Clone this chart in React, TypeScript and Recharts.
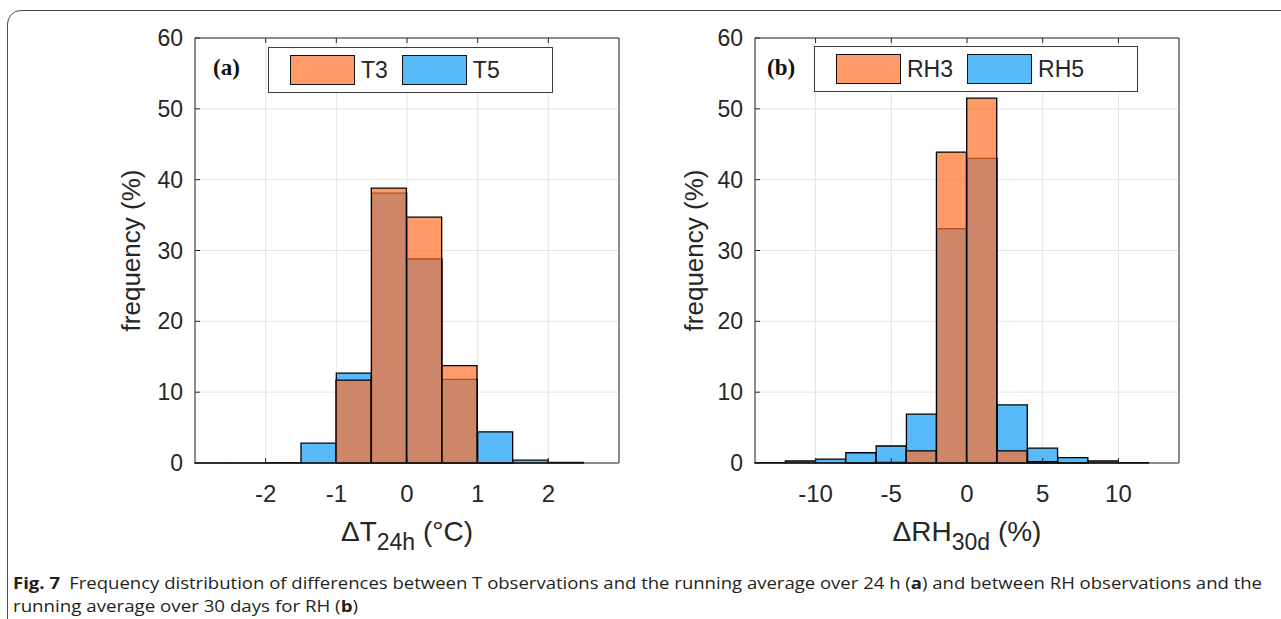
import { ComposedChart, Bar, XAxis, YAxis, CartesianGrid, Legend } from 'recharts'

// bin left edges and frequencies (%)
const T_BINS = [-3, -2.5, -2, -1.5, -1, -0.5, 0, 0.5, 1, 1.5, 2, 2.5]
const T3 = [0, 0, 0, 0, 11.7, 38.8, 34.7, 13.75, 0.05, 0, 0, 0]
const T5 = [0.03, 0.03, 0.05, 2.8, 12.7, 38.1, 28.8, 11.8, 4.4, 0.4, 0.08, 0]
const T_TICKS = [-2, -1, 0, 1, 2]

const RH_BINS = [-14, -12, -10, -8, -6, -4, -2, 0, 2, 4, 6, 8, 10, 12]
const RH3 = [0, 0, 0, 0.05, 0.1, 1.7, 43.9, 51.5, 1.7, 0.2, 0.05, 0, 0, 0]
const RH5 = [0.05, 0.28, 0.56, 1.45, 2.4, 6.9, 33.1, 43.0, 8.2, 2.1, 0.75, 0.28, 0.05, 0]
const RH_TICKS = [-10, -5, 0, 5, 10]

const FREQ_TICKS = [0, 10, 20, 30, 40, 50, 60]

const ORANGE = '#FF7029'
const ORANGE_SWATCH = '#FF9B69'
const BLUE = '#59BAF9'
const BOX = '#262626'
const GRID = '#E4E4E4'
const INK = '#262626'
const SANS = '"Liberation Sans", Arial, Helvetica, sans-serif'

// matlab style ticks point into the plot box
const LeftTick = (p: any) => (
  <g>
    <line x1={p.x + 12} x2={p.x + 17} y1={p.y} y2={p.y} stroke={BOX} />
    <text x={p.x} y={p.y} dy="0.35em" textAnchor="end" fontSize={23} fill={INK} fontFamily={SANS}>
      {p.payload.value}
    </text>
  </g>
)
const RightTick = (p: any) => <line x1={p.x - 5} x2={p.x} y1={p.y} y2={p.y} stroke={BOX} />
const TopTick = (p: any) => <line x1={p.x} x2={p.x} y1={p.y} y2={p.y + 5} stroke={BOX} />
const BottomTick = (p: any) => (
  <g>
    <line x1={p.x} x2={p.x} y1={p.y - 22} y2={p.y - 27} stroke={BOX} />
    <text x={p.x} y={p.y} dy="0.71em" textAnchor="middle" fontSize={24} fill={INK} fontFamily={SANS}>
      {p.payload.value}
    </text>
  </g>
)

function XTitle({ viewBox, main, sub, tail }: any) {
  const cx = viewBox.x + viewBox.width / 2
  return (
    <text x={cx} y={viewBox.y + 78} textAnchor="middle" fontSize={28} fill={INK} fontFamily={SANS}>
      {main}
      <tspan fontSize={23} dy={9}>{sub}</tspan>
      <tspan dy={-9}> {tail}</tspan>
    </text>
  )
}

function LegendBox({ names }: { names: string[] }) {
  const colors = [ORANGE_SWATCH, BLUE]
  return (
    <div
      style={{
        width: '100%', height: '100%', boxSizing: 'border-box', border: '1.5px solid #3c3c3c', background: '#fff',
        display: 'flex', alignItems: 'center', paddingLeft: 21, gap: 14, fontFamily: SANS, fontSize: 23, color: INK,
      }}
    >
      {names.map((n, i) => (
        <div key={n} style={{ display: 'flex', alignItems: 'center', gap: 6 }}>
          <div style={{ width: 65, height: 30, boxSizing: 'border-box', background: colors[i], border: '1.5px solid #111' }} />
          <span>{n}</span>
        </div>
      ))}
    </div>
  )
}

interface PanelProps {
  bins: number[]
  first: number[]
  second: number[]
  names: [string, string]
  domain: [number, number]
  ticks: number[]
  xMain: string
  xSub: string
  xTail: string
  marginLeft: number
  marginRight: number
  yLabelOffset: number
  legendBox: { left: number; top: number; width: number; height: number }
}

function Panel({ bins, first, second, names, domain, ticks, xMain, xSub, xTail, marginLeft, marginRight, yLabelOffset, legendBox }: PanelProps) {
  const data = bins.map((bin, i) => ({ bin, [names[0]]: first[i], [names[1]]: second[i] }))
  return (
    <ComposedChart
      width={640}
      height={560}
      data={data}
      margin={{ top: 37, right: marginRight, bottom: 37, left: marginLeft }}
      barCategoryGap={0}
      barGap="-100%"
    >
      <CartesianGrid xAxisId="num" yAxisId="freq" stroke={GRID} />
      {/* bars sit on a hidden band axis, one band per bin */}
      <XAxis xAxisId="bins" dataKey="bin" type="category" hide height={0} />
      <XAxis
        xAxisId="num" dataKey="bin" type="number" domain={domain} ticks={ticks} allowDataOverflow interval={0}
        tickSize={0} tickMargin={22} tick={BottomTick} stroke={BOX} height={60}
        label={<XTitle main={xMain} sub={xSub} tail={xTail} />}
      />
      <XAxis
        xAxisId="top" dataKey="bin" orientation="top" type="number" domain={domain} ticks={ticks} allowDataOverflow interval={0}
        tickSize={0} tickMargin={0} tick={TopTick} stroke={BOX} height={1}
      />
      <YAxis
        yAxisId="freq" domain={[0, 60]} ticks={FREQ_TICKS} interval={0} tickSize={0} tickMargin={12} width={70}
        tick={LeftTick} stroke={BOX}
        label={{
          value: 'frequency (%)', angle: -90, position: 'insideLeft', offset: yLabelOffset,
          style: { textAnchor: 'middle' }, fontSize: 26, fill: INK, fontFamily: SANS,
        }}
      />
      <YAxis
        yAxisId="right" orientation="right" domain={[0, 60]} ticks={FREQ_TICKS} interval={0}
        tickSize={0} tickMargin={0} width={1} tick={RightTick} stroke={BOX}
      />
      <Bar xAxisId="bins" yAxisId="freq" dataKey={names[1]} fill={BLUE} stroke="#000" strokeWidth={1.3} isAnimationActive={false} />
      <Bar
        xAxisId="bins" yAxisId="freq" dataKey={names[0]} fill={ORANGE} fillOpacity={0.7}
        stroke="#000" strokeWidth={1.3} isAnimationActive={false}
      />
      <Legend
        layout="horizontal" verticalAlign="middle" align="center"
        wrapperStyle={{ ...legendBox }}
        content={() => <LegendBox names={names} />}
      />
    </ComposedChart>
  )
}

const tagStyle = (left: number): React.CSSProperties => ({
  position: 'absolute', left, top: 54, fontFamily: '"Liberation Serif", "Times New Roman", serif',
  fontWeight: 700, fontSize: 23, lineHeight: '28px', color: '#111',
})

export default function App() {
  return (
    <div style={{ position: 'absolute', left: 0, top: 0, width: 1281, height: 619, overflow: 'hidden', background: '#fff' }}>
      <div
        style={{
          position: 'absolute', left: 7, top: 10, width: 1320, height: 700,
          border: '1.3px solid #4a4a4a', borderRadius: 14,
        }}
      />
      <div style={{ position: 'absolute', left: 0, top: 0 }}>
        <Panel
          bins={T_BINS} first={T3} second={T5} names={['T3', 'T5']} domain={[-3, 3]} ticks={T_TICKS}
          xMain="ΔT" xSub="24h" xTail="(°C)" marginLeft={125} marginRight={20} yLabelOffset={6}
          legendBox={{ left: 268, top: 47, width: 285, height: 46 }}
        />
      </div>
      <div style={{ position: 'absolute', left: 640, top: 0 }}>
        <Panel
          bins={RH_BINS} first={RH3} second={RH5} names={['RH3', 'RH5']} domain={[-14, 14]} ticks={RH_TICKS}
          xMain="ΔRH" xSub="30d" xTail="(%)" marginLeft={45} marginRight={100} yLabelOffset={9}
          legendBox={{ left: 174, top: 46, width: 324, height: 46 }}
        />
      </div>
      <div style={tagStyle(213)}>(a)</div>
      <div style={tagStyle(767)}>(b)</div>
      <svg width={1281} height={60} style={{ position: 'absolute', left: 0, top: 562 }}>
        <text x={13} y={27} fontFamily='"Open Sans", "Noto Sans", sans-serif' fontSize={16} fill="#231F20" textLength={1249} lengthAdjust="spacingAndGlyphs">
          <tspan fontWeight={700}>Fig. 7</tspan>
          <tspan dx={8}>Frequency distribution of differences between T observations and the running average over 24 h (</tspan>
          <tspan fontWeight={700}>a</tspan>
          <tspan>) and between RH observations and the</tspan>
        </text>
        <text x={13} y={50} fontFamily='"Open Sans", "Noto Sans", sans-serif' fontSize={16} fill="#231F20" textLength={345} lengthAdjust="spacingAndGlyphs">
          <tspan>running average over 30 days for RH (</tspan>
          <tspan fontWeight={700}>b</tspan>
          <tspan>)</tspan>
        </text>
      </svg>
    </div>
  )
}
